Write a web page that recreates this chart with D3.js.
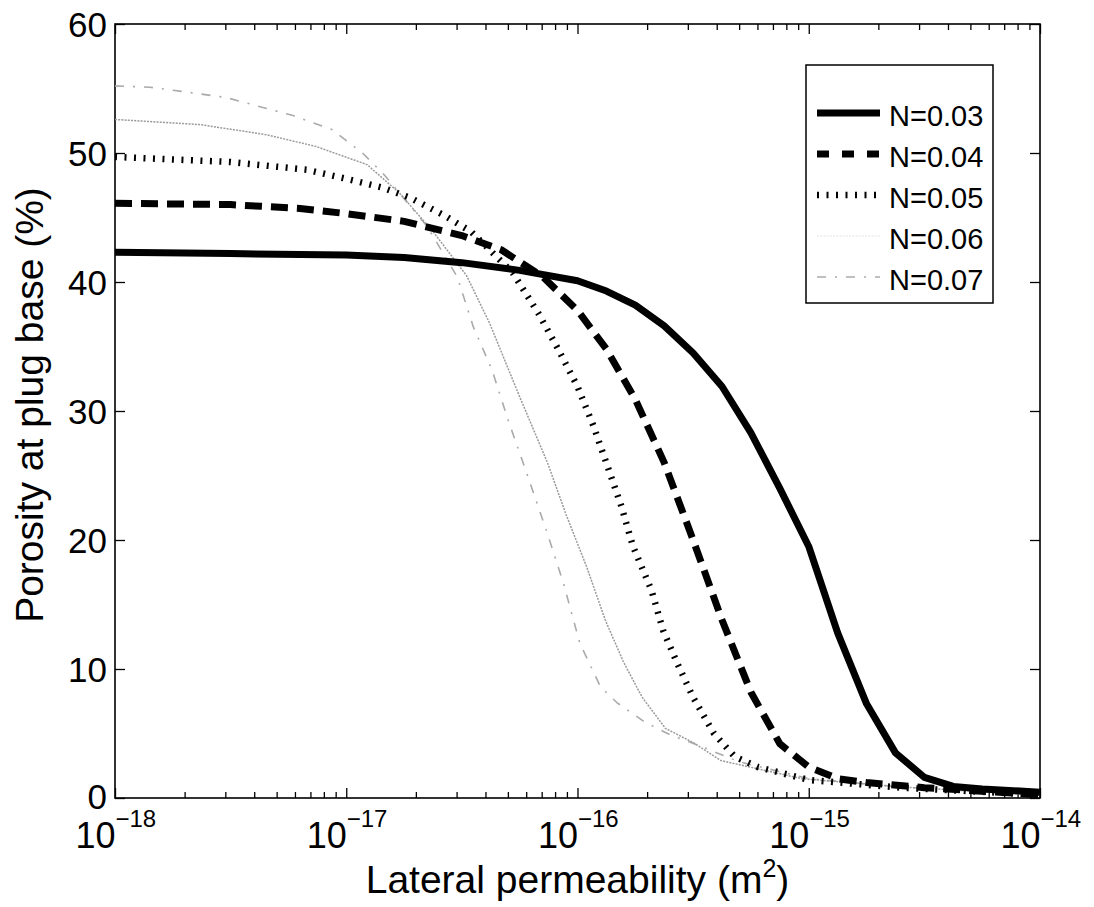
<!DOCTYPE html>
<html>
<head>
<meta charset="utf-8">
<script src="https://cdn.jsdelivr.net/npm/d3@7"></script>
<style>
  body { margin: 0; background: #fff; }
  svg text { font-family: "Liberation Sans", Arial, Helvetica, sans-serif; fill: #000; }
</style>
</head>
<body>
<div id="chart"></div>
<script>
// log10 of lateral permeability (m^2) and porosity at plug base (%) for each N
const seriesNames = ["N=0.03", "N=0.04", "N=0.05", "N=0.06", "N=0.07"];

const logK03 = [-18, -17.5, -17, -16.75, -16.5, -16.25, -16.0, -15.875, -15.75, -15.625, -15.5, -15.375, -15.25, -15.125, -15.0, -14.875, -14.75, -14.625, -14.5, -14.375, -14.25, -14.0];
const por03  = [42.3, 42.2, 42.1, 41.9, 41.5, 40.9, 40.1, 39.3, 38.2, 36.6, 34.5, 31.9, 28.3, 24.0, 19.5, 12.8, 7.3, 3.5, 1.6, 0.9, 0.7, 0.45];

const logK04 = [-18, -17.5, -17.2, -17.0, -16.75, -16.5, -16.33, -16.15, -16.0, -15.875, -15.75, -15.625, -15.5, -15.375, -15.25, -15.125, -15.0, -14.875, -14.75, -14.5, -14.0];
const por04  = [46.1, 46.0, 45.7, 45.3, 44.7, 43.6, 42.5, 40.4, 37.8, 34.8, 30.9, 26.0, 20.0, 13.8, 8.2, 4.2, 2.4, 1.5, 1.2, 0.8, 0.25];

const logK05 = [-18, -17.5, -17.17, -17.0, -16.84, -16.72, -16.58, -16.46, -16.38, -16.28, -16.17, -16.09, -16.0, -15.93, -15.87, -15.81, -15.76, -15.68, -15.63, -15.57, -15.5, -15.41, -15.32, -15.22, -15.0, -14.6, -14.0];
const por05  = [49.7, 49.3, 48.7, 48.0, 47.3, 46.5, 45.2, 43.9, 42.5, 40.7, 37.6, 35.0, 31.9, 28.8, 25.7, 22.6, 19.5, 16.1, 13.0, 10.5, 7.8, 5.0, 3.2, 2.4, 1.4, 0.8, 0.25];

const logK06 = [-18, -17.63, -17.34, -17.13, -16.91, -16.77, -16.62, -16.48, -16.38, -16.25, -16.13, -16.05, -15.96, -15.88, -15.8, -15.72, -15.62, -15.5, -15.38, -15.03, -14.6, -14.0];
const por06  = [52.6, 52.2, 51.4, 50.5, 49.1, 46.9, 43.8, 40.5, 36.8, 31.1, 26.0, 22.0, 17.9, 13.8, 10.5, 7.8, 5.4, 4.3, 2.9, 1.5, 0.85, 0.25];

const logK07 = [-18, -17.85, -17.68, -17.52, -17.23, -17.06, -16.93, -16.84, -16.77, -16.65, -16.58, -16.52, -16.45, -16.37, -16.30, -16.22, -16.13, -16.06, -15.99, -15.9, -15.83, -15.71, -15.6, -15.48, -15.3, -15.0, -14.6, -14.0];
const por07  = [55.2, 55.1, 54.7, 54.3, 52.9, 51.8, 50.0, 48.4, 46.9, 44.3, 42.2, 40.4, 36.5, 33.2, 29.3, 25.2, 20.5, 16.6, 12.0, 8.6, 7.4, 5.9, 4.9, 4.1, 2.8, 1.5, 0.85, 0.25];

const yTicks = [0, 10, 20, 30, 40, 50, 60];
const xDecades = [-18, -17, -16, -15, -14];

const W = 1094, H = 907;
const margin = { left: 115, right: 54, top: 24, bottom: 109 };

const svg = d3.select("#chart").append("svg")
  .attr("width", W).attr("height", H);

const x = d3.scaleLog().domain([1e-18, 1e-14]).range([margin.left, W - margin.right]);
const y = d3.scaleLinear().domain([0, 60]).range([H - margin.bottom, margin.top]);

const x0 = x.range()[0], x1 = x.range()[1];
const y0 = y.range()[0], y1 = y.range()[1];

// tick positions
const majorX = xDecades.map(e => Math.pow(10, e));
const minorX = [];
xDecades.slice(0, -1).forEach(e => {
  for (let m = 2; m <= 9; m++) minorX.push(m * Math.pow(10, e));
});

function drawAxis(gen, tx, ty) {
  const g = svg.append("g").attr("transform", `translate(${tx},${ty})`).call(gen);
  g.select(".domain").remove();
  g.selectAll(".tick line").attr("stroke", "#000").attr("stroke-width", 1.3);
  return g;
}

// bottom / top x axes (ticks point inward)
drawAxis(d3.axisBottom(x).tickValues(minorX).tickSize(-6).tickFormat(""), 0, y0);
drawAxis(d3.axisTop(x).tickValues(minorX).tickSize(-6).tickFormat(""), 0, y1);
drawAxis(d3.axisTop(x).tickValues(majorX).tickSize(-10).tickFormat(""), 0, y1);
const xb = drawAxis(d3.axisBottom(x).tickValues(majorX).tickSize(-10).tickFormat(""), 0, y0);

// "10" with a raised exponent, centred as a whole on the tick
xb.selectAll(".tick text").remove();
xb.selectAll(".tick").append("text")
  .attr("y", 50)
  .attr("text-anchor", "end")
  .style("font-size", "36px")
  .text("10");
xb.selectAll(".tick").append("text")
  .attr("y", 29)
  .attr("text-anchor", "start")
  .style("font-size", "24px")
  .text(d => "\u2212" + Math.abs(Math.round(Math.log10(d))));

// left / right y axes
const yl = drawAxis(d3.axisLeft(y).tickValues(yTicks).tickSize(-10).tickPadding(8), x0, 0);
yl.selectAll(".tick text").style("font-size", "35px").attr("dy", d => d === 0 ? "0.3em" : "0.36em");
drawAxis(d3.axisRight(y).tickValues(yTicks).tickSize(-10).tickFormat(""), x1, 0);

// frame
svg.append("rect")
  .attr("x", x0).attr("y", y1)
  .attr("width", x1 - x0).attr("height", y0 - y1)
  .attr("fill", "none").attr("stroke", "#000").attr("stroke-width", 1.6);

// curves
const styles = [
  { color: "#000", width: 7, dash: null },
  { color: "#000", width: 7, dash: "17,9" },
  { color: "#000", width: 6.5, dash: "2,7.5" },
  { color: "#9a9a9a", width: 1.5, dash: "2,1.2" },
  { color: "#aaaaaa", width: 1.6, dash: "9,9,2,9" }
];

const series = [
  { name: seriesNames[0], k: logK03, p: por03 },
  { name: seriesNames[1], k: logK04, p: por04 },
  { name: seriesNames[2], k: logK05, p: por05 },
  { name: seriesNames[3], k: logK06, p: por06 },
  { name: seriesNames[4], k: logK07, p: por07 }
];

const line = d3.line()
  .x(d => x(Math.pow(10, d[0])))
  .y(d => y(d[1]));

svg.append("clipPath").attr("id", "plotclip")
  .append("rect").attr("x", x0).attr("y", y1).attr("width", x1 - x0).attr("height", y0 - y1);

const plot = svg.append("g").attr("clip-path", "url(#plotclip)");

// draw the light ones first so black lines are on top
[4, 3, 2, 1, 0].forEach(i => {
  const s = series[i];
  const st = styles[i];
  plot.append("path")
    .datum(s.k.map((k, j) => [k, s.p[j]]))
    .attr("d", line)
    .attr("fill", "none")
    .attr("stroke", st.color)
    .attr("stroke-width", st.width)
    .attr("stroke-dasharray", st.dash)
    .attr("stroke-linejoin", "round");
});

// legend
const lg = svg.append("g");
lg.append("rect")
  .attr("x", 806).attr("y", 65).attr("width", 187).attr("height", 238)
  .attr("fill", "#fff").attr("stroke", "#000").attr("stroke-width", 1.5);

series.forEach((s, i) => {
  const base = 126 + i * 41;
  const st = styles[i];
  lg.append("line")
    .attr("x1", 817).attr("x2", 880)
    .attr("y1", base - 13).attr("y2", base - 13)
    .attr("stroke", i === 3 ? "#ececec" : st.color)
    .attr("stroke-width", st.width)
    .attr("stroke-dasharray", i === 1 ? "12,13" : st.dash);
  lg.append("text")
    .attr("x", 889).attr("y", base)
    .style("font-size", "29px")
    .text(s.name);
});

// axis labels
const xl = svg.append("text")
  .attr("x", (x0 + x1) / 2).attr("y", 893)
  .attr("text-anchor", "middle")
  .style("font-size", "39px");
xl.append("tspan").text("Lateral permeability (m");
xl.append("tspan").attr("dy", -16).style("font-size", "25px").text("2");
xl.append("tspan").attr("dy", 16).text(")");

svg.append("text")
  .attr("transform", `translate(43,405) rotate(-90)`)
  .attr("text-anchor", "middle")
  .style("font-size", "39px")
  .text("Porosity at plug base (%)");
</script>
</body>
</html>
